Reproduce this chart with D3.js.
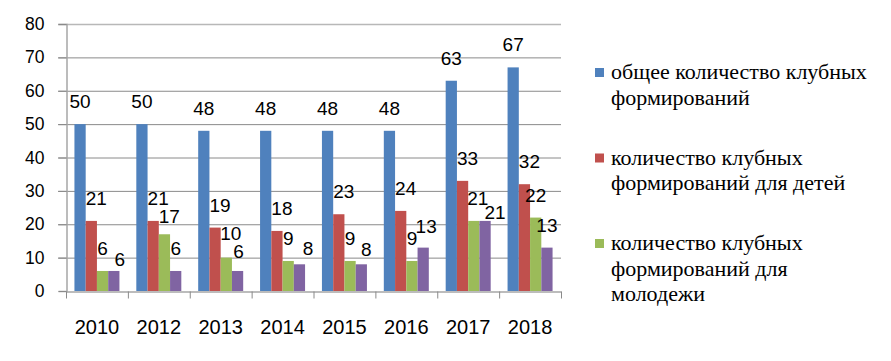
<!DOCTYPE html>
<html>
<head>
<meta charset="utf-8">
<script src="https://cdn.jsdelivr.net/npm/d3@7"></script>
<style>
  body { margin: 0; background: #fff; }
  svg { display: block; }
  .legend text { font-family: "Liberation Serif", "DejaVu Serif", "Times New Roman", serif; }
</style>
</head>
<body>
<div id="chart"></div>
<script>
// Data
const years = ["2010", "2012", "2013", "2014", "2015", "2016", "2017", "2018"];
const total = [50, 50, 48, 48, 48, 48, 63, 67];
const children = [21, 21, 19, 18, 23, 24, 33, 32];
const youth = [6, 17, 10, 9, 9, 9, 21, 22];
const fourth = [6, 6, 6, 8, 8, 13, 21, 13];
const yTicks = [0, 10, 20, 30, 40, 50, 60, 70, 80];
const legendLabels = [
  ["общее количество клубных", "формирований"],
  ["количество клубных", "формирований для детей"],
  ["количество клубных", "формирований для", "молодежи"]
];

const series = [total, children, youth, fourth];
const colors = ["#4f81bd", "#c0504d", "#9bbb59", "#8064a2"];

// label placement: default shift per series, plus a few labels moved by hand
const labelDx = [0, 5, 0, 0];
const labelDy = 16;
const labelNudge = {
  "2-2012": [4.8, 11],
  "2-2013": [4.5, 17.5],
  "2-2017": [4, 16],
  "3-2010": [6, 4.6],
  "3-2013": [1, 12.5],
  "3-2014": [8.6, 9.6],
  "3-2015": [5, 8.6],
  "3-2016": [3, 15],
  "3-2017": [10, 2]
};

const w = 891, h = 361;
const plotL = 66, plotR = 561, plotT = 24, plotB = 291;

const svg = d3.select("#chart").append("svg")
  .attr("width", w)
  .attr("height", h);

const y = d3.scaleLinear().domain([0, 80]).range([plotB, plotT]);

const x0 = d3.scaleBand().domain(years).range([plotL, plotR]);
const x1 = d3.scaleBand().domain(d3.range(series.length))
  .range([0, x0.bandwidth()])
  .paddingOuter(0.75);

// gridlines
svg.append("g")
  .selectAll("line")
  .data(yTicks.filter(d => d > 0))
  .enter()
  .append("line")
  .attr("x1", plotL - 8)
  .attr("x2", plotR)
  .attr("y1", d => y(d) + 0.5)
  .attr("y2", d => y(d) + 0.5)
  .attr("stroke", d => d === 80 ? "#b8b8b8" : "#8a8a8a")
  .attr("stroke-width", d => d === 80 ? 1.5 : 1);

// y axis
const yAxis = d3.axisLeft(y).tickValues(yTicks).tickSize(8).tickPadding(14);
svg.append("g")
  .attr("transform", "translate(" + (plotL + 0.5) + ",0)")
  .call(yAxis)
  .call(g => g.select(".domain").attr("stroke", "#a6a6a6").attr("stroke-width", 1.5))
  .call(g => g.selectAll(".tick line").attr("stroke", "#8a8a8a"))
  .call(g => g.selectAll("text")
    .attr("font-family", "'Liberation Sans', Arial, sans-serif")
    .attr("font-size", 17.5)
    .attr("fill", "#000"));

// bars
series.forEach((vals, s) => {
  svg.append("g")
    .selectAll("rect")
    .data(vals)
    .enter()
    .append("rect")
    .attr("x", (d, i) => x0(years[i]) + x1(s))
    .attr("y", d => y(d))
    .attr("width", x1.bandwidth())
    .attr("height", d => plotB - y(d))
    .attr("fill", colors[s]);
});

// x axis
const xAxis = d3.axisBottom(x0).tickSize(0).tickPadding(28);
const xg = svg.append("g")
  .attr("transform", "translate(0," + (plotB + 0.5) + ")")
  .call(xAxis)
  .call(g => g.select(".domain").attr("stroke", "#a6a6a6").attr("stroke-width", 1.5))
  .call(g => g.selectAll("text")
    .attr("font-family", "'Liberation Sans', Arial, sans-serif")
    .attr("font-size", 20)
    .attr("fill", "#000"));

// category boundary ticks
xg.append("g")
  .selectAll("line")
  .data(years.concat(["end"]))
  .enter()
  .append("line")
  .attr("x1", (d, i) => (i < years.length ? x0(d) : plotR) + 0.5)
  .attr("x2", (d, i) => (i < years.length ? x0(d) : plotR) + 0.5)
  .attr("y1", 0)
  .attr("y2", 7)
  .attr("stroke", "#8a8a8a");

// data labels
function nudge(s, i) {
  return labelNudge[s + "-" + years[i]] || [labelDx[s], labelDy];
}
series.forEach((vals, s) => {
  svg.append("g")
    .selectAll("text")
    .data(vals)
    .enter()
    .append("text")
    .attr("x", (d, i) => x0(years[i]) + x1(s) + x1.bandwidth() / 2 + nudge(s, i)[0])
    .attr("y", (d, i) => y(d) - nudge(s, i)[1])
    .attr("text-anchor", "middle")
    .attr("font-family", "'Liberation Sans', Arial, sans-serif")
    .attr("font-size", 19)
    .attr("fill", "#000")
    .text(d => d);
});

// legend
const legend = svg.append("g").attr("class", "legend");
legendLabels.forEach((lines, i) => {
  const base = 79 + i * 85.5;
  legend.append("rect")
    .attr("x", 595)
    .attr("y", base - 11)
    .attr("width", 9)
    .attr("height", 9)
    .attr("fill", colors[i]);
  legend.append("text")
    .style("font-size", "22px")
    .attr("fill", "#000")
    .selectAll("tspan")
    .data(lines)
    .enter()
    .append("tspan")
    .attr("x", 611)
    .attr("y", (d, j) => base + j * 25.5)
    .text(d => d);
});
</script>
</body>
</html>
